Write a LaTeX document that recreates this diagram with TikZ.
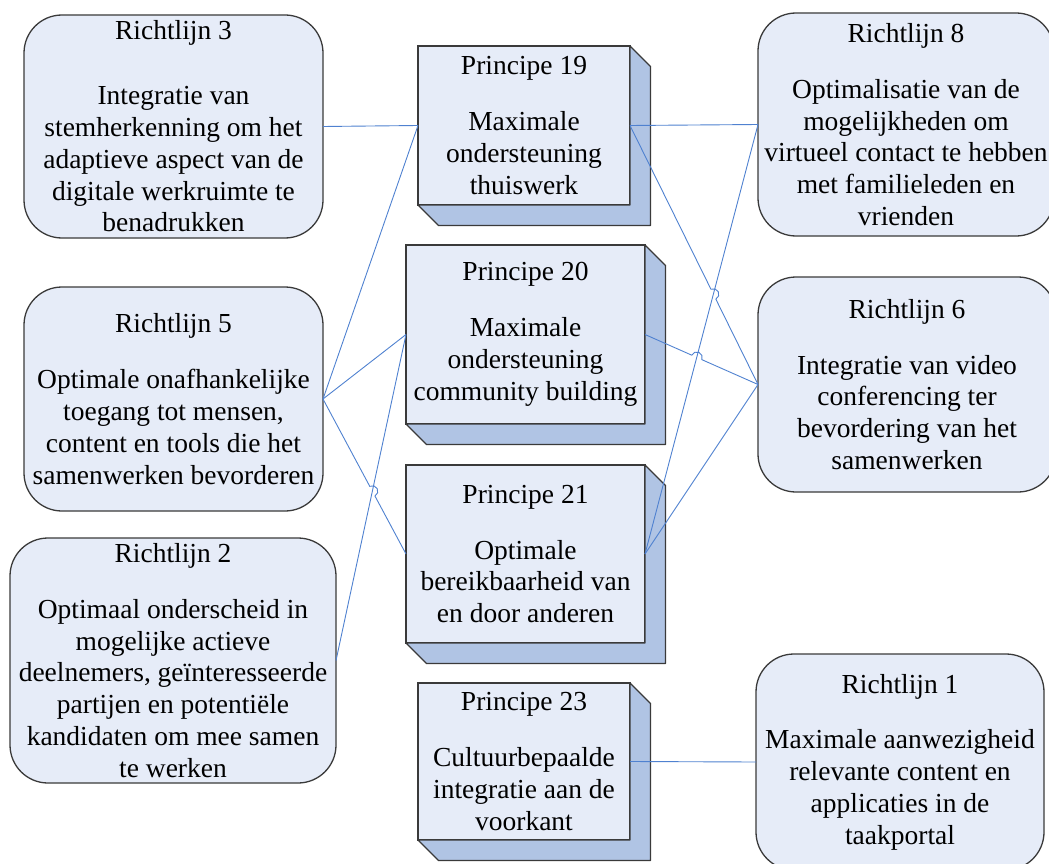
\documentclass[tikz,border=0pt]{standalone}
\usepackage{fontspec}
\setmainfont{Liberation Serif}
\usetikzlibrary{calc}

\definecolor{boxfill}{HTML}{E6ECF8}
\definecolor{cubeside}{HTML}{B0C4E4}
\definecolor{edgecol}{HTML}{3A3A3A}
\definecolor{linkcol}{HTML}{4F81D0}

\tikzset{
  txt/.style={font=\fontsize{27.5}{31.8}\selectfont, align=center, inner sep=0pt, outer sep=0pt},
  guide/.style={txt, draw=edgecol, line width=1.3pt, fill=boxfill, rounded corners=38pt},
  princ/.style={txt, draw=edgecol, line width=1.3pt, fill=boxfill},
  sideface/.style={draw=edgecol, line width=1.3pt, fill=cubeside, line join=round},
  conn/.style={draw=linkcol, line width=0.9pt},
}

% depth faces (right and bottom) of a box-shaped principle node
\newcommand\cubedepth[1]{%
  \draw[sideface] (#1.north east) -- ($(#1.north east)+(20.5,20.5)$)
    -- ($(#1.south east)+(20.5,20.5)$) -- ($(#1.south west)+(20.5,20.5)$)
    -- (#1.south west) -- (#1.south east) -- cycle;}

% straight connector from #1 to #2 with a line jump at coordinate #3
\newcommand\hopconn[3]{%
  \draw[conn] let \p1=($(#2)-(#1)$), \n1={atan2(\y1,\x1)}, \n2={\n1+180} in
    (#1) -- ($(#3)!5.5pt!(#1)$)
    arc[start angle=\n2, end angle=\n1, radius=5.5pt] -- (#2);}

\begin{document}
\begin{tikzpicture}[x=1pt,y=-1pt]
\useasboundingbox (0,0) rectangle (1049,864);
\clip (0,0) rectangle (1049,864);

% guideline boxes, left column
\node[guide, minimum width=299pt, minimum height=223pt] (r3) at (173.5,126.5)
  {Richtlijn 3\\[33pt]Integratie van\\stemherkenning om het\\adaptieve aspect van de\\digitale werkruimte te\\benadrukken};
\node[guide, minimum width=299pt, minimum height=224pt] (r5) at (173.5,399)
  {Richtlijn 5\\[24pt]Optimale onafhankelijke\\toegang tot mensen,\\content en tools die het\\samenwerken bevorderen};
\node[guide, minimum width=326pt, minimum height=245pt] (r2) at (173,660.5)
  {Richtlijn 2\\[24pt]Optimaal onderscheid in\\mogelijke actieve\\deelnemers, geïnteresseerde\\partijen en potentiële\\kandidaten om mee samen\\te werken};

% guideline boxes, right column
\node[guide, minimum width=296pt, minimum height=223pt] (r8) at (906,124.5)
  {Richtlijn 8\\[24pt]Optimalisatie van de\\mogelijkheden om\\virtueel contact te hebben\\met familieleden en\\vrienden};
\node[guide, minimum width=298pt, minimum height=215pt] (r6) at (907,384.5)
  {Richtlijn 6\\[24pt]Integratie van video\\conferencing ter\\bevordering van het\\samenwerken};
\node[guide, minimum width=288pt, minimum height=216pt] (r1) at (900,762)
  {Richtlijn 1\\[24pt]Maximale aanwezigheid\\relevante content en\\applicaties in de\\taakportal};

% principle boxes, middle column
\node[princ, minimum width=212pt, minimum height=159pt] (p19) at (524,125.5)
  {Principe 19\\[24pt]Maximale\\ondersteuning\\thuiswerk};
\node[princ, minimum width=239pt, minimum height=179pt] (p20) at (525.5,334.5)
  {Principe 20\\[24pt]Maximale\\ondersteuning\\community building};
\node[princ, minimum width=239pt, minimum height=178pt] (p21) at (525.5,554)
  {Principe 21\\[24pt]Optimale\\bereikbaarheid van\\en door anderen};
\node[princ, minimum width=212pt, minimum height=157pt] (p23) at (524,761.5)
  {Principe 23\\[24pt]Cultuurbepaalde\\integratie aan de\\voorkant};

\cubedepth{p19}
\cubedepth{p20}
\cubedepth{p21}
\cubedepth{p23}

% jump points where connectors cross
\coordinate (ja) at (intersection of p19.east--r6.west and p21.east--r8.west);
\coordinate (jb) at (intersection of p20.east--r6.west and p21.east--r8.west);
\coordinate (jc) at (intersection of r5.east--p21.west and r2.east--p20.west);

% connectors
\draw[conn] (r3.east) -- (p19.west);
\draw[conn] (r5.east) -- (p19.west);
\draw[conn] (r5.east) -- (p20.west);
\hopconn{r5.east}{p21.west}{jc}
\draw[conn] (r2.east) -- (p20.west);
\draw[conn] (p19.east) -- (r8.west);
\hopconn{p19.east}{r6.west}{ja}
\hopconn{p20.east}{r6.west}{jb}
\draw[conn] (p21.east) -- (r8.west);
\draw[conn] (p21.east) -- (r6.west);
\draw[conn] (p23.east) -- (r1.west);
\end{tikzpicture}
\end{document}
